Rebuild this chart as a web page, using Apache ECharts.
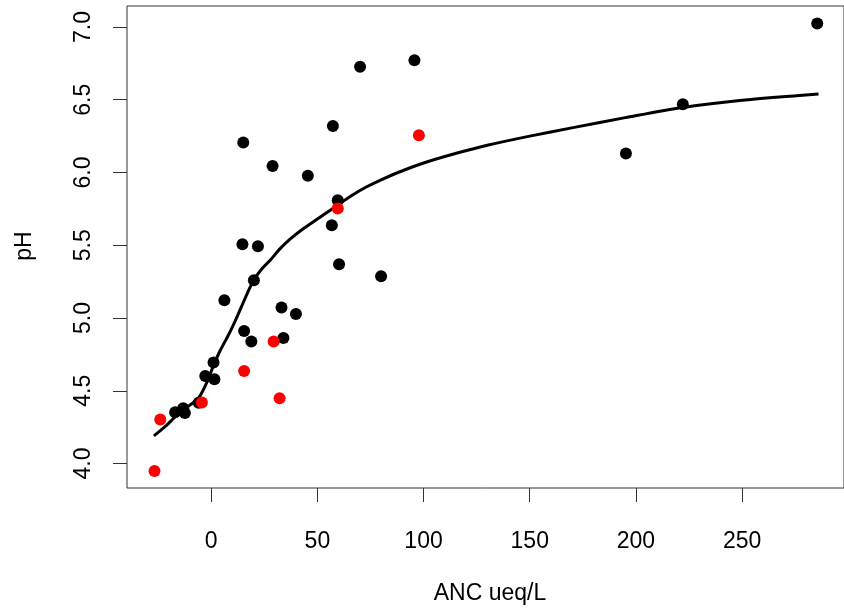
<!DOCTYPE html>
<html>
<head>
<meta charset="utf-8">
<script src="https://cdn.jsdelivr.net/npm/echarts@6/dist/echarts.min.js"></script>
<style>html,body{margin:0;padding:0;background:#fff}#c{width:844px;height:613px}</style>
</head>
<body>
<div id="c"></div>
<script>
// Black points (ANC ueq/L, pH)
const blackX = [-17.0, -13.2, -12.4, -5.9, -2.8, 1.5, 1.1, 6.2, 15.5, 18.9, 20.1, 14.7, 22.0, 33.1, 34.0, 39.9, 56.8, 60.2, 80.0, 59.6, 15.1, 28.9, 45.5, 57.3, 70.1, 95.7, 285.4, 222.1, 195.3];
const blackY = [4.353, 4.380, 4.348, 4.417, 4.602, 4.579, 4.694, 5.122, 4.911, 4.838, 5.260, 5.507, 5.493, 5.072, 4.863, 5.028, 5.638, 5.370, 5.287, 5.810, 6.206, 6.045, 5.977, 6.320, 6.726, 6.772, 7.024, 6.469, 6.131];
// Red points
const redX = [-26.7, -24.0, -4.4, 15.5, 29.4, 32.2, 59.6, 97.8];
const redY = [3.949, 4.302, 4.419, 4.636, 4.838, 4.449, 5.753, 6.256];
// Fitted curve
const curveX = [-27, -22, -17, -12, -6, -2, 1, 4, 8, 11, 14, 17, 20, 24, 28, 32, 37, 43, 50, 59, 66, 73, 80, 88, 100, 115, 130, 150, 171, 195, 222, 250, 286];
const curveY = [4.19, 4.25, 4.32, 4.38, 4.45, 4.56, 4.67, 4.77, 4.88, 4.97, 5.07, 5.17, 5.26, 5.34, 5.40, 5.47, 5.54, 5.61, 5.68, 5.77, 5.84, 5.90, 5.95, 6.00, 6.065, 6.13, 6.187, 6.25, 6.31, 6.377, 6.447, 6.497, 6.54];
// Tick labels
const xTicks = [0, 50, 100, 150, 200, 250];
const yTicks = [4.0, 4.5, 5.0, 5.5, 6.0, 6.5, 7.0];
const xTitle = 'ANC ueq/L';
const yTitle = 'pH';

const FONT = "'Liberation Sans', Arial, sans-serif";
const FS = 23;
const zip = (a, b) => a.map((v, i) => [v, b[i]]);

const chart = echarts.init(document.getElementById('c'), null, {renderer: 'canvas'});
chart.setOption({
  animation: false,
  backgroundColor: '#fff',
  grid: {left: 127, top: 6, width: 727, height: 482, show: true, borderColor: '#333', borderWidth: 1, backgroundColor: 'transparent'},
  xAxis: {
    type: 'value', min: -39.66, max: 298,
    axisLine: {show: false, onZero: false},
    splitLine: {show: false},
    axisTick: {show: true, length: 14, lineStyle: {color: '#333', width: 1}, customValues: xTicks},
    axisLabel: {customValues: xTicks, color: '#000', fontSize: FS, fontFamily: FONT, margin: 42}
  },
  yAxis: {
    type: 'value', min: 3.832, max: 7.144,
    axisLine: {show: false, onZero: false},
    splitLine: {show: false},
    axisTick: {show: true, length: 14, lineStyle: {color: '#333', width: 1}, customValues: yTicks},
    axisLabel: {customValues: yTicks, rotate: 90, color: '#000', fontSize: FS, fontFamily: FONT, margin: 32,
      formatter: v => Number(v).toFixed(1)}
  },
  graphic: [
    {type: 'text', x: 490, y: 594, style: {text: xTitle, fill: '#000', font: FS + 'px ' + FONT, textAlign: 'center', textVerticalAlign: 'middle'}},
    {type: 'text', x: 25, y: 246, rotation: Math.PI / 2, style: {text: yTitle, fill: '#000', font: FS + 'px ' + FONT, textAlign: 'center', textVerticalAlign: 'middle'}}
  ],
  series: [
    {type: 'line', data: zip(curveX, curveY), smooth: 0.3, symbol: 'none', lineStyle: {color: '#000', width: 3}, z: 2},
    {type: 'scatter', data: zip(blackX, blackY), symbolSize: 12, itemStyle: {color: '#000', opacity: 1}, z: 3},
    {type: 'scatter', data: zip(redX, redY), symbolSize: 12, itemStyle: {color: '#ff0000', opacity: 1}, z: 4}
  ]
});
</script>
</body>
</html>
